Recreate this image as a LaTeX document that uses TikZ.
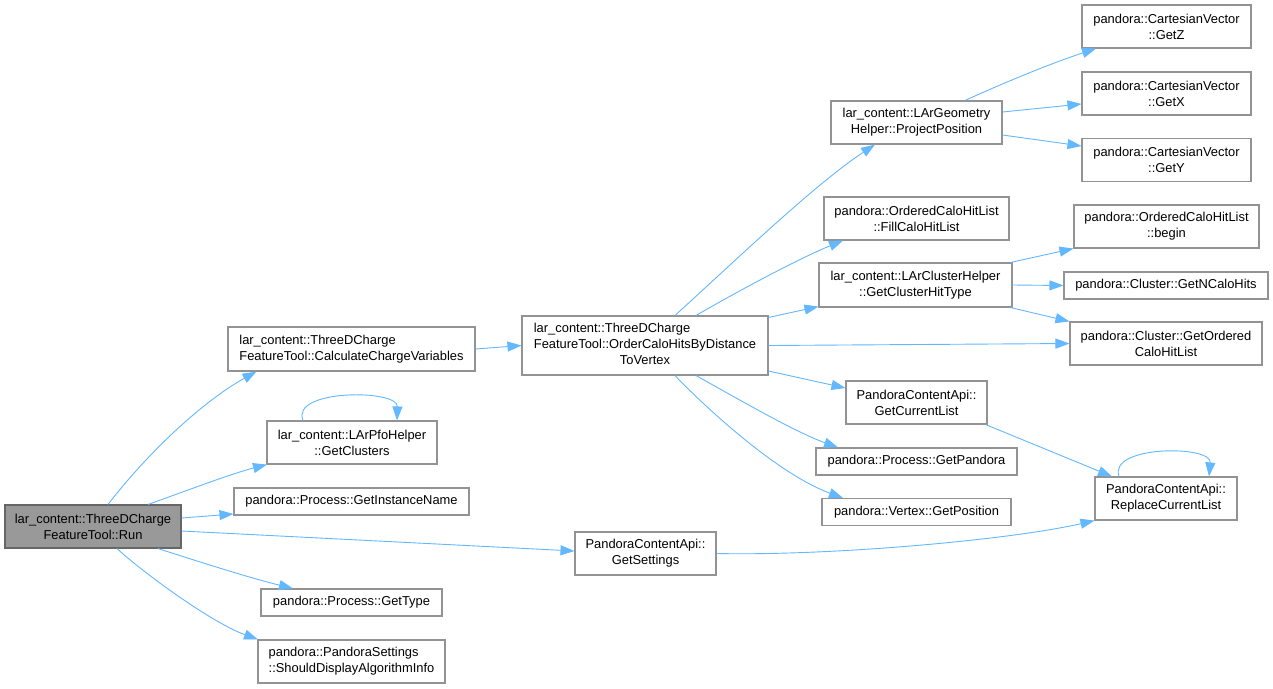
\documentclass[tikz,border=0pt]{standalone}
\usepackage{fontspec}
\setmainfont{Liberation Sans}
\usetikzlibrary{arrows.meta}
\definecolor{edgeblue}{HTML}{63B8FF}
\definecolor{boxline}{HTML}{939393}
\definecolor{rootfill}{HTML}{999999}
\definecolor{rootline}{HTML}{666666}
\begin{document}
\begin{tikzpicture}[x=1pt,y=-1pt,
  fn/.style={draw=boxline, line width=1.1pt, fill=white, inner sep=0pt,
    font=\fontsize{12.9}{16}\selectfont, align=center},
  rootfn/.style={fn, fill=rootfill, draw=rootline},
  sz/.style 2 args={minimum width=#1pt, minimum height=#2pt},
  edge/.style={draw=edgeblue, line width=0.9pt, -{Triangle[length=14pt,width=10pt]}}]
\fill[white] (0,0) rectangle (1273,688);
\useasboundingbox (0,0) rectangle (1273,688);

% nodes
\node[rootfn, sz={176}{43}] (run) at (93,526.5) {lar\_content::ThreeDCharge\\FeatureTool::Run};
\node[fn, sz={247}{44}, align=left] (calc) at (351.5,349) {lar\_content::ThreeDCharge\\FeatureTool::CalculateChargeVariables};
\node[fn, sz={170}{43}] (gcl) at (352,442.5) {lar\_content::LArPfoHelper\\::GetClusters};
\node[fn, sz={235}{27}] (gin) at (351.5,501.5) {pandora::Process::GetInstanceName};
\node[fn, sz={181}{27}] (gt) at (351.5,602.5) {pandora::Process::GetType};
\node[fn, sz={187}{43}, align=left] (sd) at (351.5,661.5) {pandora::PandoraSettings\\::ShouldDisplayAlgorithmInfo};
\node[fn, sz={246}{59}] (order) at (645,345.5) {\begin{tabular}{@{}l@{}}lar\_content::ThreeDCharge\\FeatureTool::OrderCaloHitsByDistance\\\multicolumn{1}{@{}c@{}}{ToVertex}\end{tabular}};
\node[fn, sz={141}{43}] (gs) at (645.5,553.5) {PandoraContentApi::\\GetSettings};
\node[fn, sz={171}{43}] (pp) at (916.5,122.5) {lar\_content::LArGeometry\\Helper::ProjectPosition};
\node[fn, sz={185}{43}] (fill) at (916.5,218.5) {pandora::OrderedCaloHitList\\::FillCaloHitList};
\node[fn, sz={193}{44}] (gcht) at (915.5,285) {lar\_content::LArClusterHelper\\::GetClusterHitType};
\node[fn, sz={141}{43}] (gcur) at (916.5,402.5) {PandoraContentApi::\\GetCurrentList};
\node[fn, sz={201}{27}] (gp) at (916.5,461.5) {pandora::Process::GetPandora};
\node[fn, sz={189}{27}] (gpos) at (916.5,512) {pandora::Vertex::GetPosition};
\node[fn, sz={169}{43}] (gz) at (1166.5,26.5) {pandora::CartesianVector\\::GetZ};
\node[fn, sz={169}{43}] (gx) at (1166.5,93.5) {pandora::CartesianVector\\::GetX};
\node[fn, sz={169}{43}] (gy) at (1166.5,160) {pandora::CartesianVector\\::GetY};
\node[fn, sz={185}{43}] (beg) at (1166.5,226.5) {pandora::OrderedCaloHitList\\::begin};
\node[fn, sz={204}{27}] (nc) at (1166,285.5) {pandora::Cluster::GetNCaloHits};
\node[fn, sz={192}{43}] (gochl) at (1166,343.5) {pandora::Cluster::GetOrdered\\CaloHitList};
\node[fn, sz={142}{43}] (rep) at (1166,498.5) {PandoraContentApi::\\ReplaceCurrentList};

% edges from Run
\draw[edge] ([xshift=15pt]run.north) .. controls (150,450) and (205,400) .. ([xshift=-95pt]calc.south);
\draw[edge] ([xshift=55pt]run.north) .. controls (175,495) and (230,474) .. ([xshift=-85pt]gcl.south);
\draw[edge] ([yshift=8.5pt]run.east) -- ([yshift=-12.5pt]gin.west);
\draw[edge] ([yshift=-4.5pt]run.east) -- ([yshift=2.5pt]gs.west);
\draw[edge] ([xshift=65pt]run.south) .. controls (200,562) and (250,578) .. ([xshift=-58.5pt]gt.north);
\draw[edge] ([xshift=24pt]run.south) .. controls (140,570) and (210,622) .. ([xshift=-93.5pt]sd.north);

% others
\draw[edge] (calc.east) -- (order.west);
\draw[edge] ([xshift=-49pt]gcl.north) .. controls (290,389) and (398,389) .. ([xshift=45pt]gcl.north);

\draw[edge] ([xshift=30pt]order.north) .. controls (735,261) and (815,184) .. ([xshift=-41.5pt]pp.south);
\draw[edge] ([xshift=51pt]order.north) .. controls (740,290) and (800,258) .. ([xshift=-73.5pt]fill.south);
\draw[edge] ([yshift=-2pt]order.north east) -- ([yshift=1pt]gcht.south west);
\draw[edge] (order.east) -- (gochl.west);
\draw[edge] ([yshift=-25.5pt]order.east) -- ([yshift=14.5pt]gcur.west);
\draw[edge] ([xshift=51pt]order.south) .. controls (740,400) and (795,432) .. ([xshift=-78.5pt]gp.north);
\draw[edge] ([xshift=30pt]order.south) .. controls (710,412) and (780,475) .. ([xshift=-73.5pt]gpos.north);

\draw[edge] ([xshift=48.5pt]pp.north) .. controls (1010,80) and (1055,62) .. ([xshift=-70.5pt]gz.south);
\draw[edge] ([yshift=10.5pt]pp.east) -- ([yshift=-10.5pt]gx.west);
\draw[edge] ([yshift=-12.5pt]pp.east) -- ([yshift=14pt]gy.west);

\draw[edge] ([xshift=-2pt]gcht.north east) -- (beg.south west);
\draw[edge] (gcht.east) -- (nc.west);
\draw[edge] ([xshift=-2pt]gcht.south east) -- (gochl.north west);

\draw[edge] ([xshift=-2pt]gcur.south east) -- ([xshift=-54pt]rep.north);
\draw[edge] (gs.east) .. controls (830,556) and (1010,540) .. (rep.south west);
\draw[edge] ([xshift=-47pt]rep.north) .. controls (1108,445) and (1212,445) .. ([xshift=43pt]rep.north);
\end{tikzpicture}
\end{document}
